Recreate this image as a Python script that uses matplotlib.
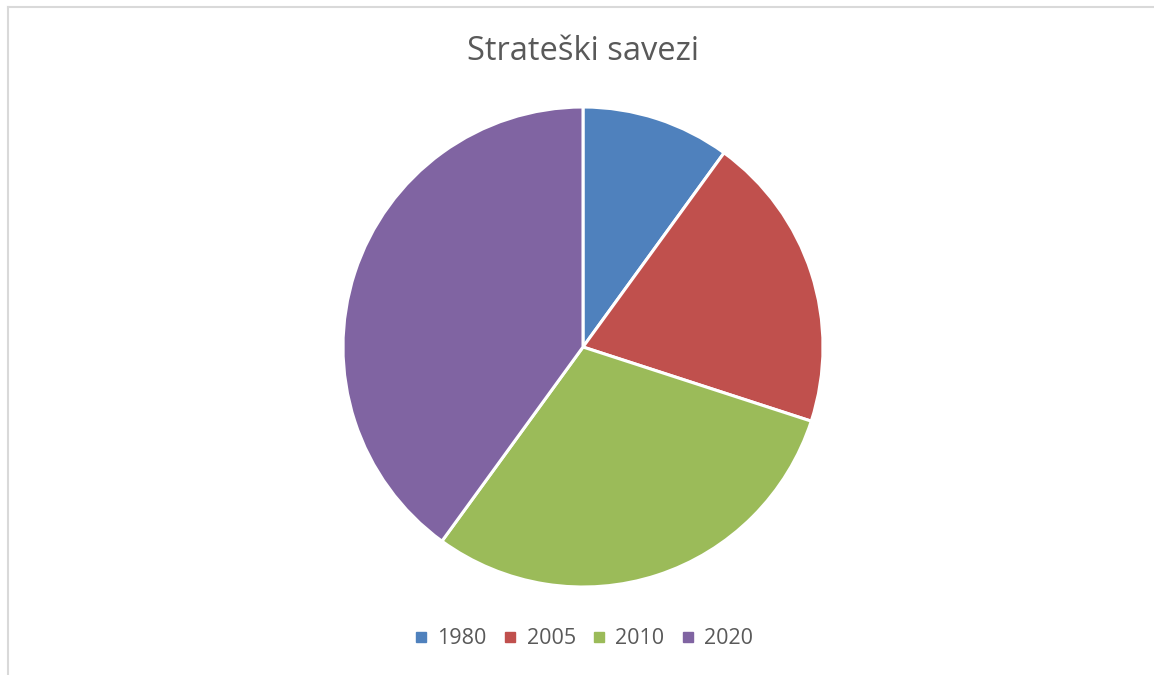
import matplotlib.pyplot as plt
from matplotlib.lines import Line2D

plt.rcParams['font.family'] = ['Open Sans', 'DejaVu Sans']

# data
years = ['1980', '2005', '2010', '2020']
shares = [10, 20, 30, 40]
colors = ['#4F81BD', '#C0504D', '#9BBB59', '#8064A2']
title = 'Strateški savezi'
text_color = '#595959'

W, H = 1154, 675
fig = plt.figure(figsize=(W / 100, H / 100), dpi=100)

# pie axes: centre (583, 347) px, radius 240 px
cx, cy, r = 583, 347, 240
ax = fig.add_axes([(cx - r) / W, (H - cy - r) / H, 2 * r / W, 2 * r / H])
ax.pie(shares, colors=colors, startangle=90, counterclock=False,
       wedgeprops=dict(edgecolor='white', linewidth=2.2))
ax.set_xlim(-1, 1)
ax.set_ylim(-1, 1)
ax.set_aspect('equal')

fig.text(cx / W, 1 - 51 / H, title, ha='center', va='center',
         fontsize=23.5, color=text_color)

handles = [Line2D([], [], marker='s', linestyle='none', markersize=6.5,
                  markerfacecolor=c, markeredgecolor=c) for c in colors]
fig.legend(handles, years, loc='center', bbox_to_anchor=(cx / W, 1 - 639 / H),
           ncol=4, frameon=False, fontsize=15.5, labelcolor=text_color,
           handlelength=0.75, handletextpad=0.4, columnspacing=0.7)

# chart area border (top and left edges visible)
fig.add_artist(Line2D([7.5 / W, 1], [1 - 6.5 / H, 1 - 6.5 / H], color='#D9D9D9',
                      linewidth=1.5, transform=fig.transFigure))
fig.add_artist(Line2D([7.5 / W, 7.5 / W], [0, 1 - 6.5 / H], color='#D9D9D9',
                      linewidth=1.5, transform=fig.transFigure))

fig.savefig('out.png', dpi=100)
